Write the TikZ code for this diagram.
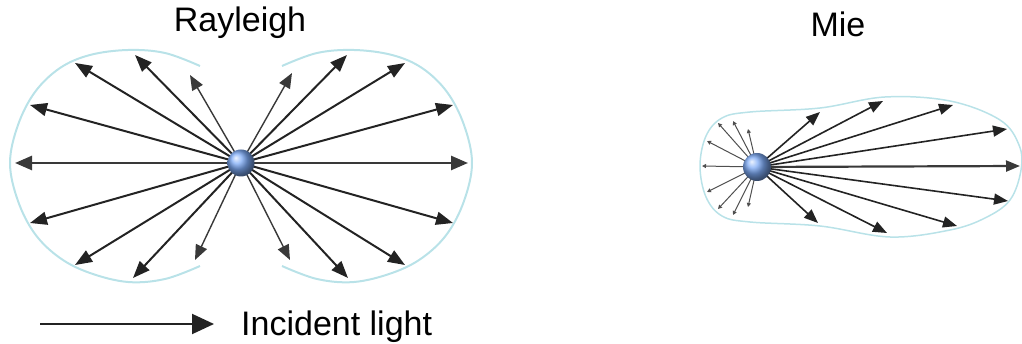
\documentclass[tikz,border=0pt]{standalone}
\usepackage{fontspec}
\setmainfont{Liberation Sans}
\usetikzlibrary{arrows.meta}
\definecolor{outl}{RGB}{185,226,232}
\definecolor{raycol}{RGB}{35,35,35}
\definecolor{ballc}{RGB}{125,170,245}
\tikzset{
  ray/.style={draw=raycol, line width=2pt, -{Triangle[length=17pt,width=13pt]}},
  thinray/.style={draw=raycol!90, line width=1.4pt, -{Triangle[length=15pt,width=12pt]}},
  hray/.style={draw=raycol!90, line width=2.6pt, -{Triangle[length=17pt,width=14pt]}},
  mray/.style={draw=raycol, line width=1.6pt, -{Triangle[length=14pt,width=11pt]}},
  mback/.style={draw=raycol!80, line width=1pt, -{Triangle[length=4pt,width=4pt]}},
  lobe/.style={draw=outl, line width=2pt},
  mlobe/.style={draw=outl, line width=1.5pt},
  ball/.style={circle, minimum size=27pt, inner sep=0pt, shading=ball, ball color=ballc},
  title/.style={font=\fontsize{34}{40}\selectfont, inner sep=0pt, anchor=base},
}
\begin{document}
\begin{tikzpicture}[x=1pt,y=-1pt]
\useasboundingbox (0,0) rectangle (1022,344);
% Rayleigh outline
\draw[lobe] plot[smooth, tension=0.6] coordinates {(200,66) (165,53) (128,50) (90,55) (60,68) (35,92) (18,125) (10,163) (18,201) (35,234) (60,258) (90,273) (128,282) (165,279) (200,266)};
\draw[lobe] plot[smooth, tension=0.6] coordinates {(282,66) (317,53) (354,50) (392,55) (422,68) (447,92) (464,125) (472,163) (464,201) (447,234) (422,258) (392,273) (354,282) (317,279) (282,266)};
% Rayleigh arrows
\coordinate (R) at (241,163);
\foreach \x/\y [count=\i] in {30/105,75/63,135/55,453/105,405/63,347/55,453/223,405/265,348/278,30/223,75/265,133/278}
  {\coordinate (r\i) at (\x,\y); \draw[ray] (R) -- (r\i);}
\foreach \x/\y [count=\i] in {190/75,292/73,290/260,195/260}
  {\coordinate (rt\i) at (\x,\y); \draw[thinray] (R) -- (rt\i);}
\coordinate (rl) at (15,163);
\coordinate (rr) at (468,163);
\draw[hray] (R) -- (rl);
\draw[hray] (R) -- (rr);
\node[ball] (RB) at (R) {};
% Mie outline
\draw[mlobe] plot[smooth cycle, tension=0.6] coordinates {(700,166) (706,136) (722,118) (750,112) (820,108) (885,97) (950,101) (1000,120) (1019,145) (1021,170) (1010,200) (985,218) (950,230) (890,237) (820,226) (750,222) (722,216) (706,197)};
% Mie arrows
\coordinate (M) at (757,167);
\foreach \x/\y [count=\i] in {1007/129,953/105,883/101,820/112,1008/201,957/226,887/233,818/223}
  {\coordinate (m\i) at (\x,\y); \draw[mray] (M) -- (m\i);}
\coordinate (mf) at (1020,166);
\draw[hray, line width=2.2pt, -{Triangle[length=14pt,width=11pt]}] (M) -- (mf);
\foreach \x/\y [count=\i] in {702/166,707/141,718/123,733/121,748/129,707/192,718/209,733/215,748/207}
  {\coordinate (mb\i) at (\x,\y); \draw[mback] (M) -- (mb\i);}
\node[ball, minimum size=28pt] (MB) at (M) {};
% titles
\node[title] (t1) at (240,32) {Rayleigh};
\node[title] (t2) at (838,37) {Mie};
% incident light
\coordinate (ia) at (40,324);
\coordinate (ib) at (214,324);
\draw[draw=raycol, line width=2pt, -{Triangle[length=22pt,width=20pt]}] (ia) -- (ib);
\node[title, anchor=base west] (il) at (241,335) {Incident light};
\end{tikzpicture}
\end{document}
